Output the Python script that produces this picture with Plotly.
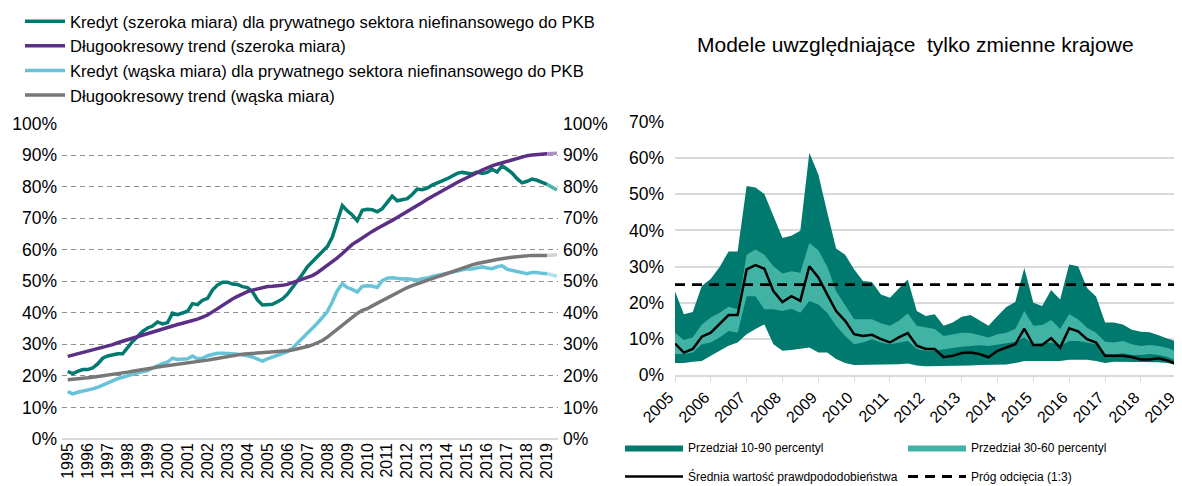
import plotly.graph_objects as go
import pandas as pd

# ---------------- Left chart data (quarterly, % of GDP) ----------------
credit_broad = [
    21.4, 20.7, 21.4, 22.0,
    22.0, 22.5, 23.8, 25.6,
    26.3, 26.7, 27.0, 27.0,
    29.1, 30.9, 32.5, 34.1,
    35.2, 35.8, 37.1, 36.5,
    36.9, 39.9, 39.4, 39.9,
    40.5, 42.9, 42.6, 44.0,
    44.6, 47.2, 48.8, 49.7,
    49.7, 49.1, 49.0, 48.3,
    48.0, 46.7, 44.1, 42.5,
    42.5, 42.7, 43.5, 44.4,
    45.9, 47.8, 50.1, 52.2,
    54.6, 56.2, 57.8, 59.4,
    61.0, 64.0, 69.0, 74.0,
    72.3, 71.0, 69.2, 72.5,
    72.8, 72.7, 72.0, 73.0,
    75.0, 77.0, 75.5, 75.8,
    76.2, 77.5, 79.2, 79.0,
    79.5, 80.5, 81.3, 81.8,
    82.5, 83.5, 84.2, 84.5,
    84.3, 84.0, 84.6, 84.2,
    84.5, 85.5, 84.6, 86.6,
    85.5, 84.3, 82.5, 81.2,
    81.7, 82.4, 82.0, 81.3,
    80.7,
]
trend_broad = [
    26.2, 26.6, 27.0, 27.4,
    27.8, 28.2, 28.6, 29.0,
    29.4, 29.9, 30.5, 31.0,
    31.6, 32.1, 32.6, 33.1,
    33.6, 34.1, 34.6, 35.0,
    35.5, 35.9, 36.3, 36.7,
    37.1, 37.5, 38.0, 38.6,
    39.3, 40.3, 41.4, 42.5,
    43.5, 44.4, 45.2, 46.0,
    46.7, 47.2, 47.6, 48.0,
    48.3, 48.4, 48.5, 48.7,
    49.0, 49.5, 50.0, 50.5,
    51.1, 51.8, 52.7, 53.8,
    55.2, 56.2, 57.4, 58.8,
    60.4, 61.7, 62.7, 63.8,
    64.9, 65.8, 66.7, 67.5,
    68.4, 69.3, 70.2, 71.1,
    72.0, 73.0, 74.0, 75.0,
    76.0, 76.9, 77.9, 78.8,
    79.7, 80.5, 81.3, 82.1,
    82.8, 83.6, 84.4, 85.2,
    86.0, 86.6, 87.1, 87.6,
    88.0, 88.5, 89.0, 89.4,
    89.8, 90.0, 90.1, 90.3,
    90.4,
]
credit_narrow = [
    15.0, 14.3, 14.8, 15.1,
    15.4, 15.9, 16.4, 17.0,
    17.7, 18.4, 19.1, 19.5,
    19.9, 20.5, 21.0, 21.3,
    21.7, 22.5, 23.3, 23.9,
    24.4, 25.6, 25.2, 25.3,
    25.4, 26.3, 25.4, 25.6,
    26.4, 26.8, 27.2, 27.2,
    27.2, 27.0, 26.9, 26.7,
    26.4, 26.0, 25.3, 24.7,
    25.4, 25.9, 26.4, 27.0,
    27.7, 28.8, 30.3, 31.9,
    33.5, 35.1, 36.7, 38.5,
    40.4, 43.5, 47.0, 49.2,
    48.0, 47.4, 46.6, 48.4,
    48.6, 48.5, 48.0, 50.2,
    51.0, 51.1, 50.9, 50.7,
    50.8, 50.6, 50.4, 50.8,
    51.0, 51.5, 51.8, 52.2,
    52.5, 52.9, 53.2, 53.6,
    53.9, 53.9, 54.3, 54.6,
    54.2, 54.0, 54.6, 54.9,
    53.8, 53.4, 53.0, 52.7,
    52.4, 52.8, 52.8, 52.5,
    52.4,
]
trend_narrow = [
    18.8, 18.9, 19.1, 19.2,
    19.4, 19.6, 19.8, 20.1,
    20.3, 20.5, 20.8, 21.0,
    21.2, 21.5, 21.7, 22.0,
    22.2, 22.5, 22.8, 23.0,
    23.3, 23.5, 23.7, 23.9,
    24.0, 24.2, 24.4, 24.6,
    25.0, 25.3, 25.6, 25.9,
    26.2, 26.5, 26.7, 26.9,
    27.0, 27.1, 27.2, 27.3,
    27.5, 27.6, 27.7, 27.8,
    28.0, 28.2, 28.5, 29.0,
    29.3, 29.8, 30.4, 31.2,
    32.3, 33.6, 34.9, 36.1,
    37.2, 38.5, 39.8, 40.8,
    41.3, 42.2, 43.0, 43.8,
    44.8, 45.6, 46.5, 47.2,
    48.0, 48.6, 49.2, 49.8,
    50.4, 50.9, 51.4, 51.9,
    52.5, 53.1, 53.7, 54.2,
    54.7, 55.2, 55.6, 56.0,
    56.3, 56.6, 56.9, 57.2,
    57.4, 57.6, 57.8, 58.0,
    58.1, 58.2, 58.2, 58.2,
    58.2,
]
# lighter projection segment at the end of each line
credit_broad_proj = [80.7, 79.8, 78.9]
trend_broad_proj = [90.4, 90.5, 90.6]
credit_narrow_proj = [52.4, 52.0, 51.6]
trend_narrow_proj = [58.2, 58.3, 58.4]

left_years = list(range(1995, 2020))

# ---------------- Right chart data (quarterly, probability %) ----------------
p90 = [
    23.2, 16.8, 17.4, 24.6,
    26.6, 29.9, 34.2, 34.2,
    52.3, 51.9, 50.1, 43.9,
    37.9, 38.5, 39.9, 61.5,
    55.5, 45.0, 35.0, 33.3,
    29.2, 26.0, 25.7, 22.3,
    21.4, 23.9, 26.4, 17.7,
    16.3, 16.8, 13.6, 14.5,
    16.1, 16.6, 15.0, 13.6,
    16.3, 18.8, 20.2, 29.6,
    20.0, 19.1, 23.5, 20.9,
    30.6, 30.1, 24.1, 21.7,
    14.5, 14.5, 14.0, 12.5,
    12.0, 11.8, 11.0, 10.0,
    9.3,
]
p60 = [
    11.7, 9.7, 10.4, 14.0,
    15.9, 17.2, 18.9, 18.2,
    33.3, 34.7, 33.3, 30.1,
    28.1, 28.7, 28.3, 36.5,
    34.5, 30.0, 23.2, 19.1,
    15.4, 15.4, 15.4, 14.3,
    13.6, 15.0, 17.0, 13.6,
    13.1, 12.7, 10.8, 11.3,
    11.7, 11.6, 11.1, 10.4,
    11.3, 11.7, 12.7, 17.7,
    13.6, 13.8, 15.2, 12.7,
    16.8, 15.4, 13.1, 11.7,
    9.2, 9.0, 9.4, 8.5,
    8.0, 8.3, 8.0, 7.5,
    6.5,
]
p30 = [
    5.8, 5.8, 6.2, 8.5,
    9.0, 10.4, 12.2, 11.7,
    21.8, 21.8, 18.2, 18.2,
    17.7, 18.3, 17.2, 20.5,
    19.5, 17.2, 13.6, 10.8,
    8.5, 9.0, 9.9, 9.0,
    8.5, 9.0, 9.4, 7.2,
    6.7, 6.7, 7.2, 7.5,
    7.8, 8.0, 8.2, 8.0,
    8.3, 8.8, 9.2, 10.4,
    8.5, 8.8, 9.0, 8.1,
    9.4, 9.4, 9.0, 8.5,
    5.8, 5.6, 6.0, 5.5,
    5.5, 5.8, 5.5, 5.0,
    4.0,
]
p10 = [
    3.3, 3.3, 3.7, 3.9,
    5.3, 6.7, 8.1, 9.0,
    11.3, 12.7, 14.0, 8.5,
    6.7, 6.9, 7.3, 7.6,
    6.2, 6.2, 4.4, 3.3,
    2.8, 2.8, 3.0, 2.8,
    2.9, 3.0, 3.2, 2.6,
    2.4, 2.4, 2.4, 2.4,
    2.6, 2.6, 2.8, 2.8,
    2.8, 2.9, 3.3, 3.9,
    3.9, 3.9, 3.9, 3.9,
    4.2, 4.2, 4.2, 3.9,
    3.3, 3.7, 3.7, 3.5,
    3.5, 3.5, 3.5, 3.3,
    2.7,
]
mean_prob = [
    8.7, 6.2, 7.2, 10.6,
    11.7, 14.0, 16.6, 16.6,
    29.2, 30.4, 29.4, 23.2,
    20.2, 21.8, 20.5, 30.1,
    27.0, 22.3, 17.7, 15.0,
    11.3, 10.8, 11.1, 9.9,
    9.0, 10.4, 11.6, 8.1,
    7.2, 7.2, 4.9, 5.3,
    6.1, 6.2, 5.8, 4.9,
    6.7, 7.6, 8.5, 12.8,
    8.3, 8.3, 10.2, 7.6,
    12.9, 12.1, 9.9, 9.0,
    5.3, 5.3, 5.3, 5.0,
    4.3, 4.3, 4.6, 4.0,
    3.0,
]
threshold = 25.0
right_years = list(range(2005, 2020))

# ---------------- colours ----------------
C_GREEN = "#007A6E"
C_PURPLE = "#5B2F86"
C_BLUE = "#66C3D8"
C_GRAY = "#777777"
C_GREEN_L = "#4DB5A6"
C_PURPLE_L = "#A892C6"
C_BLUE_L = "#B2DFEC"
C_GRAY_L = "#D3D3D3"
C_DARK_BAND = "#007A6E"
C_LIGHT_BAND = "#40B3A5"
FONT = "Liberation Sans, Arial, sans-serif"

q_left = pd.date_range("1995-01-01", periods=len(credit_broad), freq="QS")
q_proj = pd.date_range(q_left[-1], periods=len(credit_broad_proj), freq="QS")
q_right = pd.date_range("2005-01-01", periods=len(p90), freq="QS")

fig = go.Figure()

left_series = [
    (credit_broad, credit_broad_proj, C_GREEN, C_GREEN_L,
     "Kredyt (szeroka miara) dla prywatnego sektora niefinansowego do PKB"),
    (trend_broad, trend_broad_proj, C_PURPLE, C_PURPLE_L,
     "Długookresowy trend (szeroka miara)"),
    (credit_narrow, credit_narrow_proj, C_BLUE, C_BLUE_L,
     "Kredyt (wąska miara) dla prywatnego sektora niefinansowego do PKB"),
    (trend_narrow, trend_narrow_proj, C_GRAY, C_GRAY_L,
     "Długookresowy trend (wąska miara)"),
]
for vals, proj, col, col_l, name in left_series:
    fig.add_trace(go.Scatter(
        x=q_left, y=vals, mode="lines", name=name,
        line=dict(color=col, width=3.5), xaxis="x", yaxis="y",
        legend="legend", hoverinfo="skip"))
for vals, proj, col, col_l, name in left_series:
    fig.add_trace(go.Scatter(
        x=q_proj, y=proj, mode="lines", showlegend=False,
        line=dict(color=col_l, width=3.5), xaxis="x", yaxis="y3",
        hoverinfo="skip"))

# right chart bands
fig.add_trace(go.Scatter(x=q_right, y=p10, mode="lines", line=dict(width=0),
                         showlegend=False, xaxis="x2", yaxis="y2", hoverinfo="skip"))
fig.add_trace(go.Scatter(x=q_right, y=p90, mode="lines", line=dict(width=0),
                         fill="tonexty", fillcolor=C_DARK_BAND,
                         name="Przedział 10-90 percentyl", legend="legend2",
                         xaxis="x2", yaxis="y2", hoverinfo="skip"))
fig.add_trace(go.Scatter(x=q_right, y=p30, mode="lines", line=dict(width=0),
                         showlegend=False, xaxis="x2", yaxis="y2", hoverinfo="skip"))
fig.add_trace(go.Scatter(x=q_right, y=p60, mode="lines", line=dict(width=0),
                         fill="tonexty", fillcolor=C_LIGHT_BAND,
                         name="Przedział 30-60 percentyl", legend="legend2",
                         xaxis="x2", yaxis="y2", hoverinfo="skip"))
fig.add_trace(go.Scatter(x=q_right, y=mean_prob, mode="lines",
                         line=dict(color="black", width=2.5),
                         name="Średnia wartość prawdpododobieństwa", legend="legend3",
                         xaxis="x2", yaxis="y2", hoverinfo="skip"))
fig.add_trace(go.Scatter(x=[q_right[0], q_right[-1]], y=[threshold, threshold],
                         mode="lines", line=dict(color="black", width=2.8, dash="10px,7px"),
                         name="Próg odcięcia (1:3)", legend="legend3",
                         xaxis="x2", yaxis="y2", hoverinfo="skip"))

# The page body has an 8px default margin, so the figure is drawn 8px in.
OFF = 8
W, H = 1182 - OFF, 486 - OFF
def px_x(p):
    return (p - OFF) / W
def px_y(p):
    return 1 - (p - OFF) / H

left_dom_y = [px_y(439), px_y(123.5)]
right_dom_y = [px_y(375), px_y(122)]

fig.update_layout(
    width=W, height=H,
    margin=dict(l=0, r=0, t=0, b=0, autoexpand=False),
    paper_bgcolor="white", plot_bgcolor="white",
    font=dict(family=FONT, color="black", size=15),
    xaxis=dict(
        domain=[px_x(62), px_x(558)], anchor="y", type="date",
        range=["1994-09-18", "2019-07-20"],
        tickvals=[f"{y}-01-01" for y in left_years],
        ticktext=[str(y) for y in left_years],
        tickangle=-90, tickfont=dict(size=16), showgrid=False,
        showline=False, ticks="", zeroline=False, automargin=False,
    ),
    yaxis=dict(
        domain=left_dom_y, anchor="x", range=[0, 100], dtick=10,
        ticksuffix="%", tickfont=dict(size=17.5), ticklabelstandoff=4,
        showgrid=True, gridcolor="#8F8F8F", griddash="5px,4px", gridwidth=1,
        zeroline=True, zerolinecolor="#D9D9D9", zerolinewidth=1.5,
        showline=False, ticks="", automargin=False,
    ),
    yaxis3=dict(
        overlaying="y", side="right", anchor="x", range=[0, 100], dtick=10,
        ticksuffix="%", tickfont=dict(size=17.5), ticklabelstandoff=4,
        showgrid=False, zeroline=False, showline=False, ticks="", automargin=False,
    ),
    xaxis2=dict(
        domain=[px_x(675), px_x(1177)], anchor="y2", type="date",
        range=["2005-01-01", "2019-01-04"],
        tickvals=[f"{y}-01-01" for y in right_years],
        ticktext=[str(y) for y in right_years],
        tickangle=-45, tickfont=dict(size=16), showgrid=False,
        showline=True, linecolor="#D9D9D9", linewidth=1.5,
        ticks="outside", ticklen=5, tickcolor="#D9D9D9", zeroline=False,
        automargin=False, ticklabeloverflow="allow", ticklabelshift=-6,
    ),
    yaxis2=dict(
        domain=right_dom_y, anchor="x2", range=[0, 70], dtick=10,
        ticksuffix="%", tickfont=dict(size=17.5), ticklabelstandoff=10,
        showgrid=True, gridcolor="#D9D9D9", gridwidth=1.5,
        zeroline=False, showline=False, ticks="", automargin=False,
    ),
    legend=dict(
        x=px_x(20), y=px_y(4), xanchor="left", yanchor="top",
        orientation="v", font=dict(size=16.6), bgcolor="rgba(0,0,0,0)",
        itemwidth=40, tracegroupgap=0,
    ),
    legend2=dict(
        x=px_x(620), y=px_y(433), xanchor="left", yanchor="top",
        orientation="h", font=dict(size=12), bgcolor="rgba(0,0,0,0)",
        entrywidth=210, entrywidthmode="pixels", itemwidth=58,
        traceorder="normal",
    ),
    legend3=dict(
        x=px_x(620), y=px_y(462), xanchor="left", yanchor="top",
        orientation="h", font=dict(size=12), bgcolor="rgba(0,0,0,0)",
        entrywidth=210, entrywidthmode="pixels", itemwidth=58,
        traceorder="normal",
    ),
    annotations=[dict(
        text="Modele uwzględniające\u00a0 tylko zmienne krajowe",
        x=px_x(915), y=px_y(45), xref="paper", yref="paper",
        xanchor="center", yanchor="middle", showarrow=False,
        font=dict(size=21),
    )],
    showlegend=True,
)

fig.write_html("out.html")
